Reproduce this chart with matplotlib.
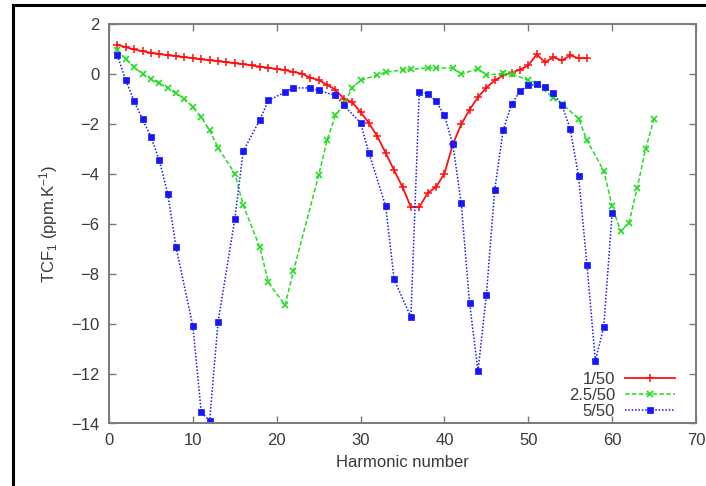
import matplotlib
matplotlib.use("Agg")
import matplotlib.pyplot as plt
from matplotlib.lines import Line2D

# ---- data ----
red_n = list(range(1, 58))
red_v = [1.17, 1.07, 0.98, 0.91, 0.85, 0.80, 0.75, 0.71, 0.67, 0.63,
         0.58, 0.55, 0.51, 0.47, 0.43, 0.39, 0.34, 0.29, 0.25, 0.20,
         0.15, 0.08, 0.01, -0.15, -0.24, -0.44, -0.63, -0.99, -1.13, -1.53,
         -1.97, -2.50, -3.17, -3.86, -4.53, -5.33, -5.33, -4.77, -4.53, -3.99,
         -2.82, -2.02, -1.43, -0.93, -0.55, -0.26, -0.06, 0.05, 0.17, 0.34,
         0.78, 0.47, 0.67, 0.54, 0.74, 0.63, 0.63]

green_n = [1, 2, 3, 4, 5, 6, 7, 8, 9, 10, 11, 12, 13, 15, 16, 18, 19, 21, 22,
           25, 26, 27, 28, 29, 30, 32, 33, 35, 36, 38, 39, 41, 42, 44, 45,
           47, 48, 50, 51, 53, 54, 56, 57, 59, 60, 61, 62, 63, 64, 65]
green_v = [0.96, 0.59, 0.27, 0.0, -0.19, -0.38, -0.56, -0.78, -0.99, -1.33,
           -1.73, -2.26, -2.95, -3.99, -5.26, -6.95, -8.35, -9.26, -7.89,
           -4.06, -2.66, -1.66, -1.22, -0.55, -0.26, -0.04, 0.07, 0.16, 0.19,
           0.24, 0.24, 0.24, -0.01, 0.21, -0.05, 0.02, 0.0, -0.25, -0.4,
           -0.95, -1.19, -1.79, -2.66, -3.88, -5.3, -6.29, -5.97, -4.55,
           -2.99, -1.79]

blue_n = [1, 2, 3, 4, 5, 6, 7, 8, 10, 11, 12, 13, 15, 16, 18, 19, 21, 22,
          24, 25, 27, 28, 30, 31, 33, 34, 36, 37, 38, 39, 40, 41, 42, 43, 44,
          45, 46, 47, 48, 49, 50, 51, 52, 53, 54, 55, 56, 57, 58, 59, 60]
blue_v = [0.75, -0.26, -1.09, -1.82, -2.51, -3.46, -4.79, -6.95, -10.1,
          -13.55, -13.89, -9.95, -5.82, -3.1, -1.83, -1.06, -0.73, -0.56,
          -0.56, -0.66, -0.86, -1.26, -1.96, -3.17, -5.3, -8.23, -9.74,
          -0.73, -0.79, -1.09, -1.66, -2.82, -5.17, -9.18, -11.9, -8.86,
          -4.63, -2.26, -1.22, -0.7, -0.46, -0.42, -0.53, -0.77, -1.24,
          -2.2, -4.1, -7.66, -11.49, -10.13, -5.57]

labels = ["1/50", "2.5/50", "5/50"]
xticks = [0, 10, 20, 30, 40, 50, 60, 70]
yticks = [2, 0, -2, -4, -6, -8, -10, -12, -14]

# ---- figure ----
plt.rcParams['font.family'] = ['Liberation Sans', 'DejaVu Sans']
plt.rcParams['mathtext.fontset'] = 'custom'
plt.rcParams['mathtext.rm'] = 'Liberation Sans'
plt.rcParams['mathtext.it'] = 'Liberation Sans:italic'
fig = plt.figure(figsize=(7.06, 4.86), dpi=100)
ax = fig.add_axes([109/706, 1-423.5/486, 587/706, 399.5/486])

ax.plot(red_n, red_v, color='#ff1010', lw=1.3, ls='-', marker='+',
        ms=6, mew=1.1, label=labels[0])
ax.plot(green_n, green_v, color='#22dd22', lw=1.1, ls=(0, (3, 1.5)), marker='x',
        ms=5, mew=1.2, label=labels[1])
ax.plot(blue_n, blue_v, color='#1515ff', lw=1.1, ls=(0, (1, 1.2)), marker='s',
        ms=4.6, mew=0.5, label=labels[2])

ax.set_xlim(0, 70)
ax.set_ylim(-14, 2)
ax.set_xticks(xticks)
ax.set_yticks(yticks)
ax.set_yticklabels([str(t).replace('-', '\u2212') for t in yticks])

gray = '#7a7a7a'
for s in ax.spines.values():
    s.set_color(gray)
    s.set_linewidth(1.4)
ax.tick_params(direction='in', length=5, width=1.0, color=gray,
               top=True, right=True, labelsize=12, labelcolor='#3a3a3a', pad=7)

ax.set_xlabel("Harmonic number", fontsize=12, color='#3a3a3a', labelpad=5)
ax.set_ylabel("TCF$_1$ (ppm.K$^{-1}$)", fontsize=12, color='#3a3a3a', labelpad=8)

leg = ax.legend(loc='lower right', bbox_to_anchor=((675-109)/587, 0.012),
                borderaxespad=0, borderpad=0, frameon=False, markerfirst=False,
                handlelength=3.0, handletextpad=0.6, labelspacing=0.05,
                fontsize=12)
for t in leg.get_texts():
    t.set_color('#3a3a3a')
    t.set_ha('right')
leg._legend_box.align = "right"

# black frame (left and top)
fig.add_artist(Line2D([13/706, 13/706], [0, 1-5/486], color='black', lw=2.2,
                      transform=fig.transFigure))
fig.add_artist(Line2D([13/706, 1], [1-5/486, 1-5/486], color='black', lw=2.2,
                      transform=fig.transFigure))

fig.savefig("out.png", dpi=100)
